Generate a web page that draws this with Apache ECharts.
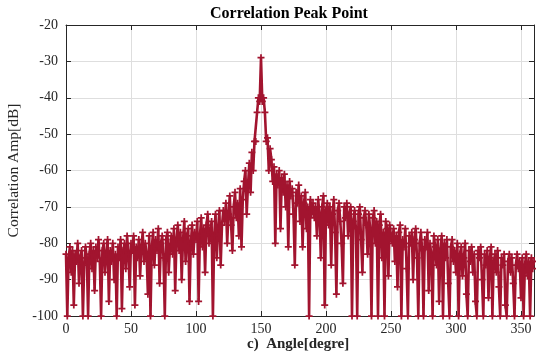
<!DOCTYPE html>
<html>
<head>
<meta charset="utf-8">
<script src="https://cdn.jsdelivr.net/npm/echarts@6/dist/echarts.min.js"></script>
<style>html,body{margin:0;padding:0;background:#fff}#c{width:536px;height:354px}</style>
</head>
<body>
<div id="c"></div>
<script>
// Angle in degrees 0..360 (1-degree steps)
const angleStart = 0;
const angleStep = 1;
// Correlation amplitude [dB]
const ampDb = [
-83,-100,-84,-81,-88,-82,-97,-83,-85,-80,-91,-84,-82,-100,-86,-81,-84,-100,-83,-80,-87,
-82,-93,-81,-84,-79,-85,-100,-82,-80,-88,-83,-79,-96,-82,-85,-80,-90,-83,-100,-81,
-84,-79,-98,-82,-80,-87,-78,-83,-92,-80,-82,-78,-97,-81,-84,-79,-89,-81,-77,-85,
-80,-83,-94,-78,-100,-81,-77,-86,-79,-82,-76,-91,-80,-78,-84,-100,-79,-77,-88,-81,
-78,-83,-76,-93,-79,-75,-82,-77,-90,-79,-74,-85,-78,-76,-96,-80,-75,-83,-77,-79,
-74,-96,-78,-73,-81,-76,-88,-75,-72,-80,-77,-74,-100,-78,-72,-84,-76,-71,-86,-75,
-71,-74,-69,-80,-72,-67,-75,-82,-70,-66,-73,-69,-78,-65,-81,-68,-63,-60,-72,-64,
-58,-66,-55,-60,-52,-52,-44,-40,-41,-29,-41,-40,-44,-52,-51,
-60,-54,-57,-63,-59,-80,-61,-64,-60,-76,-62,-66,-61,-70,-64,-81,-63,-67,-65,-72,
-86,-66,-69,-64,-74,-67,-81,-69,-66,-76,-70,-100,-68,-72,-69,
-73,-70,-78,-68,-72,-84,-70,-67,-97,-71,-69,-75,-70,-86,-72,-68,-77,-94,-71,-69,
-74,-80,-91,-70,-73,-69,-78,-72,-70,-100,-74,-71,-76,-100,-72,-70,-79,-88,-73,-71,
-75,-83,-72,-76,-100,-73,-71,-80,-74,-100,-75,-72,-84,-77,-100,-74,-76,-89,-75,-78,
-80,-76,-85,-78,-92,-77,-75,-100,-79,-81,-76,-87,-100,-78,-80,-77,-90,-79,-76,-84,
-100,-80,-77,-82,-100,-79,-81,-77,-93,-80,-83,-100,-78,-81,-86,-79,-96,-82,-78,-100,
-80,-84,-79,-91,-100,-81,-79,-85,-82,-88,
-80,-100,-83,-81,-89,-84,-80,-94,-100,-82,-85,-81,-88,-83,-96,-100,-82,-84,-81,-90,
-100,-83,-86,-82,-95,-84,-81,-100,-85,-83,-88,-82,-92,-100,-84,-86,-83,-97,-100,-85,
-83,-88,-84,-91,-100,-86,-83,-87,-85,-95,-84,-100,-86,-83,-89,-85,-100,-84,-87,-85
];
const xTicks = [0, 50, 100, 150, 200, 250, 300, 350];
const yTicks = [-100, -90, -80, -70, -60, -50, -40, -30, -20];

const seriesData = ampDb.map((v, i) => [angleStart + i * angleStep, v]);

const serif = '"Liberation Serif", "DejaVu Serif", serif';
const chart = echarts.init(document.getElementById('c'), null, {renderer: 'canvas'});
const axisCommon = {
  axisLine: {show: true, onZero: false, lineStyle: {color: '#262626', width: 1}},
  axisTick: {show: true, inside: true, length: 5, lineStyle: {color: '#262626'}},
};
chart.setOption({
  animation: false,
  backgroundColor: '#fff',
  grid: {left: 66, right: 2, top: 25, bottom: 38, containLabel: false, outerBoundsMode: 'none'},
  graphic: [
    {type: 'text', left: 210, top: 6, style: {text: 'Correlation Peak Point', font: 'bold 16px ' + serif, fill: '#000'}},
    {type: 'text', left: 247, top: 337, style: {text: 'c)  Angle[degre]', font: 'bold 15px ' + serif, fill: '#262626'}}
  ],
  xAxis: [{
    type: 'value', min: 0, max: 360, interval: 50, position: 'bottom',
    ...axisCommon,
    axisLabel: {color: '#262626', fontFamily: serif, fontSize: 14, margin: 6,
      formatter: v => xTicks.includes(v) ? String(v) : ''},
    splitLine: {show: true, lineStyle: {color: '#dedede', width: 1}}
  }, {
    type: 'value', min: 0, max: 360, interval: 50, position: 'top',
    ...axisCommon, axisLabel: {show: false}, splitLine: {show: false}
  }],
  yAxis: [{
    type: 'value', min: -100, max: -20, interval: 10, position: 'left',
    ...axisCommon,
    name: 'Correlation Amp[dB]', nameLocation: 'middle', nameGap: 44,
    nameTextStyle: {fontFamily: serif, fontSize: 15.5, color: '#262626'},
    axisLabel: {color: '#262626', fontFamily: serif, fontSize: 14, margin: 8,
      formatter: v => yTicks.includes(v) ? String(v) : ''},
    splitLine: {show: true, lineStyle: {color: '#dedede', width: 1}}
  }, {
    type: 'value', min: -100, max: -20, interval: 10, position: 'right',
    ...axisCommon, axisLabel: {show: false}, splitLine: {show: false}
  }],
  series: [{
    type: 'line',
    data: seriesData,
    xAxisIndex: 0, yAxisIndex: 0,
    showSymbol: true, showAllSymbol: true,
    symbol: 'path://M-1,-4h2v3h3v2h-3v3h-2v-3h-3v-2h3z',
    symbolSize: 7,
    itemStyle: {color: '#A2142F'},
    lineStyle: {color: '#A2142F', width: 2.6},
    clip: true
  }]
});
</script>
</body>
</html>
